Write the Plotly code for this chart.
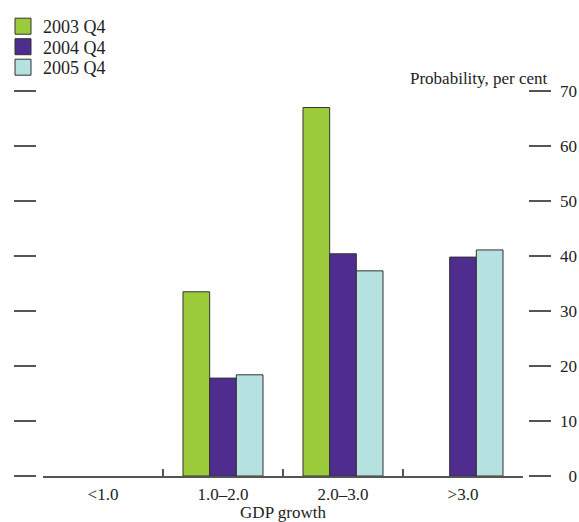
import plotly.graph_objects as go

categories = ["<1.0", "1.0–2.0", "2.0–3.0", ">3.0"]
series_names = ["2003 Q4", "2004 Q4", "2005 Q4"]
values_2003 = [0, 33.5, 67.0, 0]
values_2004 = [0, 17.8, 40.4, 39.8]
values_2005 = [0, 18.4, 37.3, 41.1]
y_ticks = [0, 10, 20, 30, 40, 50, 60, 70]

colors = ["#9BCB3B", "#4F2D8F", "#B5E1E0"]
FONT = "Liberation Serif"
FS = 17
W, H = 579, 522

def fx(s):  # screen x pixel -> paper fraction
    return s / W

def fy(s):  # screen y pixel -> paper fraction
    return (H - s) / H

fig = go.Figure()
for name, vals, c in zip(series_names, [values_2003, values_2004, values_2005], colors):
    fig.add_trace(go.Bar(x=categories, y=vals, name=name, showlegend=False,
                         marker=dict(color=c, line=dict(color="#333333",
                                                        width=[0 if v == 0 else 1 for v in vals]))))
# legend entries (square swatches), one legend per entry for exact placement
legend_y = [26.5, 47, 67.5]
for i, (name, c) in enumerate(zip(series_names, colors)):
    fig.add_trace(go.Scatter(x=[categories[0]], y=[None], name=name, mode="markers",
                             legend="legend" if i == 0 else f"legend{i+1}",
                             marker=dict(symbol="square", size=19, color=c,
                                         line=dict(color="#333333", width=1)),
                             hoverinfo="skip"))

tick_common = dict(range=[0, 70], tickvals=y_ticks, showline=False, showgrid=False,
                   zeroline=False, automargin=False)
leg_common = dict(xanchor="left", yanchor="middle", bgcolor="rgba(0,0,0,0)",
                  font=dict(size=18, family=FONT, color="#222222"),
                  itemwidth=30, borderwidth=0, tracegroupgap=0)

fig.update_layout(
    width=W, height=H,
    margin=dict(l=0, r=0, t=0, b=0, pad=0),
    paper_bgcolor="white", plot_bgcolor="white",
    font=dict(family=FONT, size=FS, color="#222222"),
    barmode="group", bargap=1/3, bargroupgap=0,
    showlegend=True,
    legend=dict(x=fx(3), y=fy(legend_y[0]), **leg_common),
    legend2=dict(x=fx(3), y=fy(legend_y[1]), **leg_common),
    legend3=dict(x=fx(3), y=fy(legend_y[2]), **leg_common),
    xaxis=dict(domain=[fx(43), fx(523)], type="category",
               categoryorder="array", categoryarray=categories,
               range=[-0.5, 3.5], showline=True, linecolor="#555555", linewidth=1.5,
               ticks="inside", tickson="boundaries", ticklen=7, tickwidth=1.5, tickcolor="#555555",
               showgrid=False, zeroline=False, ticklabelstandoff=2, automargin=False,
               title=dict(text="GDP growth", standoff=3, font=dict(size=FS))),
    yaxis=dict(domain=[fy(476), fy(91)], anchor="free", position=fx(528), side="right",
               ticks="outside", ticklen=22, tickwidth=1.5, tickcolor="#555555",
               showticklabels=False, **tick_common),
    yaxis2=dict(anchor="free", position=fx(36), side="left", overlaying="y",
                ticks="outside", ticklen=22, tickwidth=1.5, tickcolor="#555555",
                showticklabels=False, **tick_common),
    yaxis3=dict(anchor="free", position=fx(579), side="left", overlaying="y",
                ticks="", showticklabels=True, ticklabelstandoff=2, **tick_common),
    annotations=[dict(text="Probability, per cent", xref="paper", yref="paper",
                      x=fx(549), y=fy(78), xanchor="right", yanchor="middle",
                      showarrow=False, font=dict(size=FS, family=FONT))],
)
fig.add_trace(go.Scatter(x=[categories[0]], y=[None], yaxis="y2", showlegend=False,
                         hoverinfo="skip", mode="markers"))
fig.add_trace(go.Scatter(x=[categories[0]], y=[None], yaxis="y3", showlegend=False,
                         hoverinfo="skip", mode="markers"))

fig.write_html("out.html", config={"displayModeBar": False},
               post_script="document.body.style.margin='0';document.body.style.overflow='hidden';")
